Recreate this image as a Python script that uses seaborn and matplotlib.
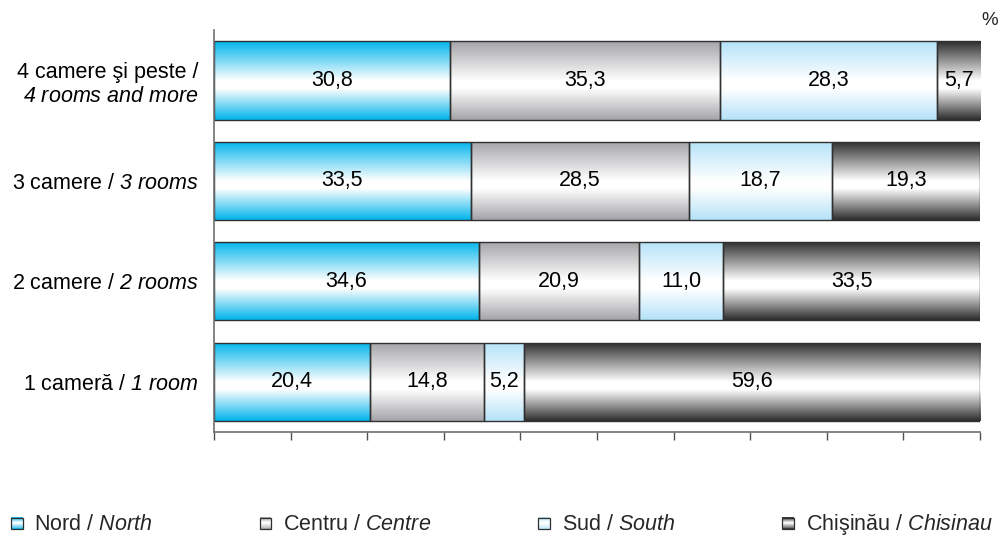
import numpy as np
import pandas as pd
import matplotlib
matplotlib.use("Agg")
import matplotlib.pyplot as plt
import seaborn as sns
from matplotlib.colors import LinearSegmentedColormap
from matplotlib.patches import Patch, Rectangle
from matplotlib.legend_handler import HandlerBase

# data
categories = ["4 camere şi peste /\n$4\\ rooms\\ and\\ more$",
              "3 camere / $3\\ rooms$",
              "2 camere / $2\\ rooms$",
              "1 cameră / $1\\ room$"]
regions = ["Nord / $North$", "Centru / $Centre$",
           "Sud / $South$", "Chişinău / $Chisinau$"]
nord = [30.8, 33.5, 34.6, 20.4]
centru = [35.3, 28.5, 20.9, 14.8]
sud = [28.3, 18.7, 11.0, 5.2]
chisinau = [5.7, 19.3, 33.5, 59.6]
series = [nord, centru, sud, chisinau]
edge_colors = ["#00b4ec", "#a4a4a8", "#b4e2f8", "#2c2c2c"]

rows = []
left = np.zeros(len(categories))
for r, vals in zip(regions, series):
    for i, c in enumerate(categories):
        rows.append({"category": c, "region": r, "value": vals[i], "left": left[i]})
    left = left + np.array(vals)
df = pd.DataFrame(rows)

sns.set_theme(style="white")
plt.rcParams["font.family"] = ["Liberation Sans", "DejaVu Sans"]
# all math parts of the labels are italic
plt.rcParams["mathtext.fontset"] = "custom"
plt.rcParams["mathtext.rm"] = "Liberation Sans:italic"
plt.rcParams["mathtext.it"] = "Liberation Sans:italic"
FS = 15.5

def grad_cmap(c):
    return LinearSegmentedColormap.from_list(
        "g", [(0, c), (0.5, "#ffffff"), (0.6, "#ffffff"), (1, c)])

fig = plt.figure(figsize=(10.03, 5.38), dpi=100)
ax = fig.add_axes([0.2134, 0.197, 0.7637, 0.747])

for r, ec in zip(regions, edge_colors):
    sub = df[df.region == r]
    n_before = len(ax.patches)
    sns.barplot(data=sub, x="value", y="category", order=categories, width=0.78,
                color=ec, errorbar=None, ax=ax)
    new = ax.patches[n_before:]
    cmap = grad_cmap(ec)
    for p, (_, row) in zip(new, sub.iterrows()):
        p.set_x(row["left"])
        p.set_width(row["value"])
        p.set_facecolor("none")
        p.set_edgecolor("#303030")
        p.set_linewidth(1.0)
        p.set_zorder(2)
        y0 = p.get_y()
        h = p.get_height()
        grad = np.linspace(0, 1, 256).reshape(-1, 1)
        im = ax.imshow(grad, cmap=cmap, aspect="auto", interpolation="bilinear",
                       extent=(row["left"], row["left"] + row["value"], y0 + h, y0),
                       origin="upper", zorder=1)
        im.set_clip_path(p)
        ax.text(row["left"] + row["value"] / 2, p.get_y() + h / 2,
                f"{row['value']:.1f}".replace(".", ","),
                ha="center", va="center", fontsize=FS, color="black", zorder=3)

ax.set_xlim(0, 100)
ax.set_ylim(len(categories) - 0.5, -0.5)
ax.set_xticks(range(0, 101, 10))
ax.set_xticklabels([])
ax.set_xlabel("")
ax.set_ylabel("")
ax.tick_params(axis="x", direction="out", length=6, width=1, color="#505050", bottom=True)
ax.tick_params(axis="y", length=0, pad=11, labelsize=FS, labelcolor="black")
for s in ["top", "right"]:
    ax.spines[s].set_visible(False)
for s in ["left", "bottom"]:
    ax.spines[s].set_color("#707070")
    ax.spines[s].set_linewidth(1.2)

fig.text(0.987, 0.962, "%", ha="center", va="center", fontsize=FS - 2)


class GradHandler(HandlerBase):
    def __init__(self, color):
        super().__init__()
        self.cmap = grad_cmap(color)

    def create_artists(self, legend, orig_handle, xdescent, ydescent, width, height,
                       fontsize, trans):
        s = 8.4
        x0 = -xdescent + (width - s) / 2
        y0 = -ydescent + (height - s) / 2 - 1
        arts = []
        n = 14
        for k in range(n):
            arts.append(Rectangle((x0, y0 + k * s / n), s, s / n + 0.05,
                                  facecolor=self.cmap((k + 0.5) / n), edgecolor="none",
                                  transform=trans))
        arts.append(Rectangle((x0, y0), s, s, facecolor="none", edgecolor="#303030",
                              linewidth=0.9, transform=trans))
        return arts


handles = [Patch(label=r) for r in regions]
hmap = {h: GradHandler(c) for h, c in zip(handles, edge_colors)}
fig.legend(handles=handles, labels=regions, handler_map=hmap, loc="center left",
           bbox_to_anchor=(0.011, 0.026), ncol=4, frameon=False, borderpad=0,
           borderaxespad=0, handlelength=0.54, handletextpad=0.55, columnspacing=4.97,
           fontsize=FS)

plt.savefig("out.png", dpi=100)
plt.close()
